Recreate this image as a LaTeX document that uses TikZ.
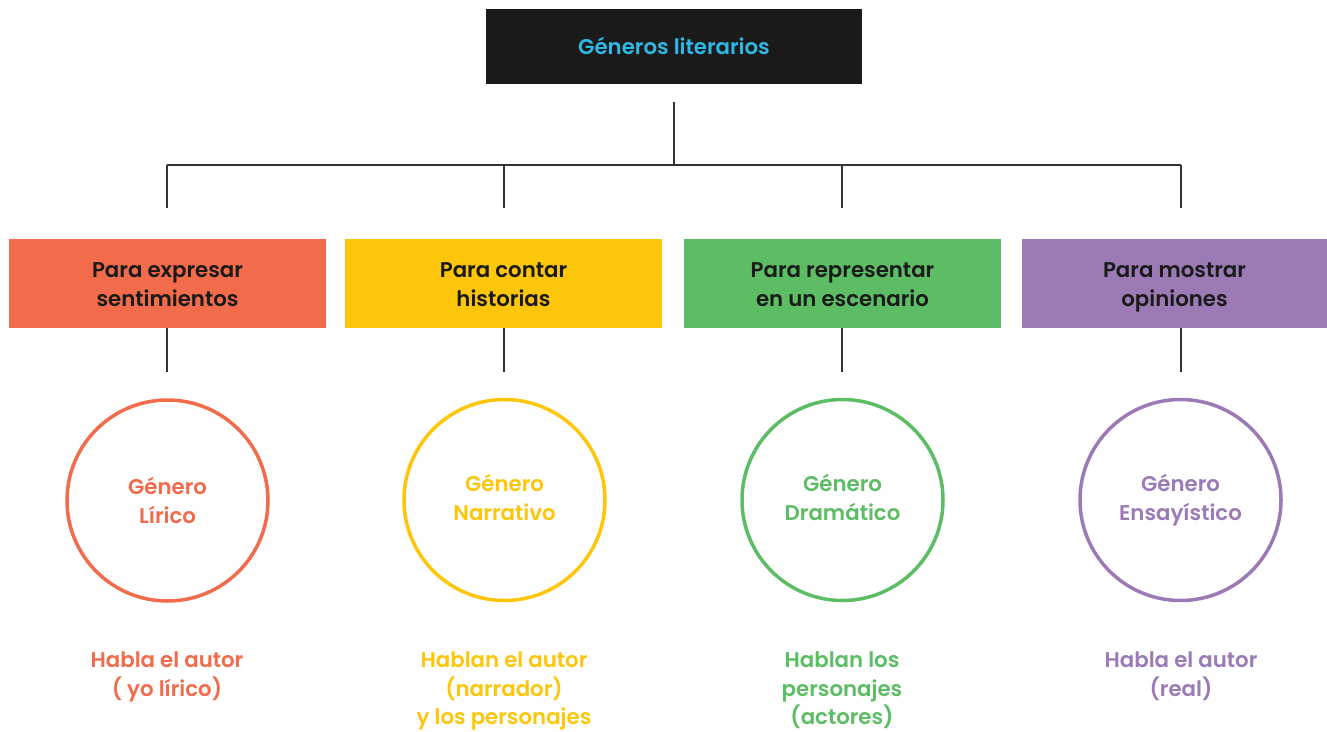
\documentclass[tikz,border=0pt]{standalone}
\usepackage{fontspec}
\setmainfont{Poppins}[UprightFont=* SemiBold]
\newcommand\mys{\rule[-6pt]{0pt}{28.5pt}}
\newcommand\mysl{\rule[-3pt]{0pt}{25.5pt}}
\newcommand\mysu{\rule[-8.5pt]{0pt}{28.5pt}}
\definecolor{cOr}{HTML}{F26B4A}
\definecolor{cYe}{HTML}{FDC60B}
\definecolor{cGr}{HTML}{5CBD64}
\definecolor{cPu}{HTML}{9B7AB6}
\definecolor{cCy}{HTML}{2EB8E6}
\definecolor{cBk}{HTML}{1A1A1A}
\definecolor{cLn}{HTML}{333333}
\begin{document}
\begin{tikzpicture}[x=1pt,y=-1pt,
  txt/.style={font=\fontsize{21.3}{28.5}\selectfont, align=center, inner sep=0pt},
  catbox/.style={txt, minimum width=317pt, minimum height=89pt, text=cBk},
  gcirc/.style={txt, circle, line width=3.5pt, minimum size=201pt, fill=white},
  conn/.style={draw=cLn, line width=1.6pt}]
\useasboundingbox (0,0) rectangle (1327,731);
\node[txt, fill=cBk, minimum width=376pt, minimum height=75pt, text=cCy] (top) at (674,46.5) {\mys Géneros literarios};
\coordinate (t1) at (674,102);
\coordinate (t2) at (674,165);
\draw[conn] (t1) -- (t2);
\coordinate (hl) at (167,165);
\coordinate (hr) at (1181,165);
\draw[conn] (hl) -- (hr);
\foreach \n/\x in {a/167,b/504,c/842,d/1181}{
  \coordinate (u\n) at (\x,165);
  \coordinate (v\n) at (\x,208);
  \draw[conn] (u\n) -- (v\n);
}
\node[catbox, fill=cOr] (ba) at (167.5,283.5) {\mys Para expresar\\\mys sentimientos};
\node[catbox, fill=cYe] (bb) at (503.5,283.5) {\mys Para contar\\\mys historias};
\node[catbox, fill=cGr] (bc) at (842.5,283.5) {\mys Para representar\\\mys en un escenario};
\node[catbox, fill=cPu, minimum width=305pt] (bd) at (1174.5,283.5) {\mys Para mostrar\\\mys opiniones};
\foreach \n/\x in {a/167,b/504,c/842,d/1181}{
  \coordinate (w\n) at (\x,372);
  \draw[conn] (b\n.south -| w\n) -- (w\n);
}
\node[gcirc, draw=cOr, text=cOr] (ca) at (167.5,500.5) {\mys Género\\\mys Lírico};
\node[gcirc, draw=cYe, text=cYe] (cb) at (504.5,500) {\mysu Género\\\mysu Narrativo};
\node[gcirc, draw=cGr, text=cGr] (cc) at (842.5,500) {\mysu Género\\\mysu Dramático};
\node[gcirc, draw=cPu, text=cPu] (cd) at (1180.5,500) {\mysu Género\\\mysu Ensayístico};
\node[txt, text=cOr, anchor=north] (da) at (167,645) {\mys Habla el autor\\\mysl ( yo lírico)};
\node[txt, text=cYe, anchor=north] (db) at (504,645) {\mys Hablan el autor\\\mys (narrador)\\\mysl y los personajes};
\node[txt, text=cGr, anchor=north] (dc) at (842,645) {\mys Hablan los\\\mys personajes\\\mysl (actores)};
\node[txt, text=cPu, anchor=north] (dd) at (1181,645) {\mys Habla el autor\\\mysl (real)};
\end{tikzpicture}
\end{document}
